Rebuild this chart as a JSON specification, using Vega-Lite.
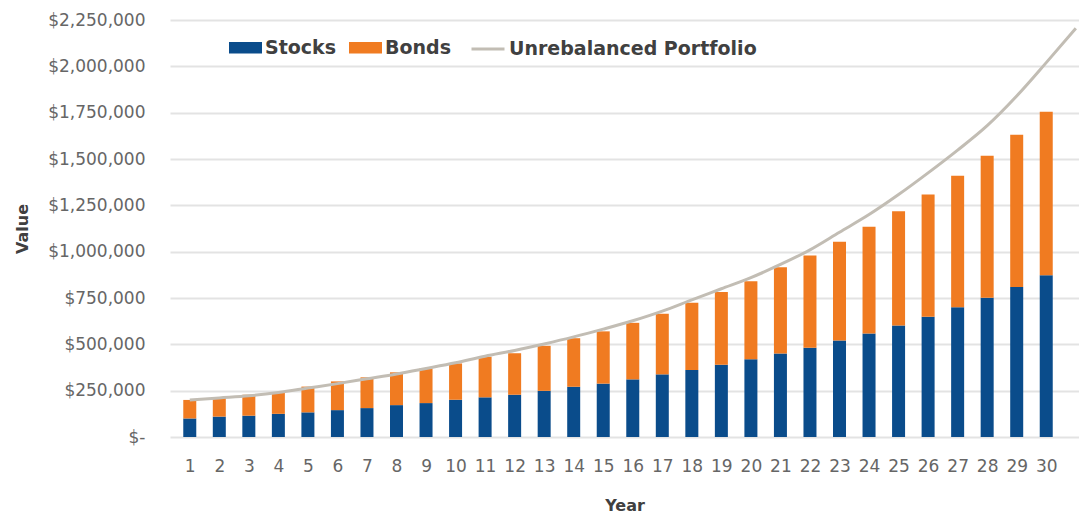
{
  "$schema": "https://vega.github.io/schema/vega-lite/v6.json",
  "width": 909,
  "height": 417,
  "autosize": {"type": "none"},
  "padding": {"left": 170, "top": 20, "right": 0, "bottom": 80},
  "background": "white",
  "config": {
    "view": {"stroke": null},
    "font": "DejaVu Sans",
    "axis": {
      "labelFont": "DejaVu Sans",
      "titleFont": "DejaVu Sans",
      "labelFontSize": 17,
      "labelColor": "#666666",
      "titleFontSize": 16,
      "titleFontWeight": "bold",
      "titleColor": "#404040",
      "ticks": false,
      "domain": false
    },
    "legend": {"labelFont": "DejaVu Sans"}
  },
  "datasets": {
    "bars": [
      {"year": 1, "series": "Stocks", "value": 100000}, {"year": 1, "series": "Bonds", "value": 100000},
      {"year": 2, "series": "Stocks", "value": 110000}, {"year": 2, "series": "Bonds", "value": 104000},
      {"year": 3, "series": "Stocks", "value": 115000}, {"year": 3, "series": "Bonds", "value": 113000},
      {"year": 4, "series": "Stocks", "value": 125000}, {"year": 4, "series": "Bonds", "value": 116000},
      {"year": 5, "series": "Stocks", "value": 133000}, {"year": 5, "series": "Bonds", "value": 139000},
      {"year": 6, "series": "Stocks", "value": 145000}, {"year": 6, "series": "Bonds", "value": 155000},
      {"year": 7, "series": "Stocks", "value": 156000}, {"year": 7, "series": "Bonds", "value": 166000},
      {"year": 8, "series": "Stocks", "value": 172000}, {"year": 8, "series": "Bonds", "value": 177000},
      {"year": 9, "series": "Stocks", "value": 183000}, {"year": 9, "series": "Bonds", "value": 187000},
      {"year": 10, "series": "Stocks", "value": 201000}, {"year": 10, "series": "Bonds", "value": 196000},
      {"year": 11, "series": "Stocks", "value": 214000}, {"year": 11, "series": "Bonds", "value": 219000},
      {"year": 12, "series": "Stocks", "value": 228000}, {"year": 12, "series": "Bonds", "value": 224000},
      {"year": 13, "series": "Stocks", "value": 249000}, {"year": 13, "series": "Bonds", "value": 243000},
      {"year": 14, "series": "Stocks", "value": 271000}, {"year": 14, "series": "Bonds", "value": 262000},
      {"year": 15, "series": "Stocks", "value": 288000}, {"year": 15, "series": "Bonds", "value": 282000},
      {"year": 16, "series": "Stocks", "value": 311000}, {"year": 16, "series": "Bonds", "value": 305000},
      {"year": 17, "series": "Stocks", "value": 338000}, {"year": 17, "series": "Bonds", "value": 327000},
      {"year": 18, "series": "Stocks", "value": 361000}, {"year": 18, "series": "Bonds", "value": 363000},
      {"year": 19, "series": "Stocks", "value": 390000}, {"year": 19, "series": "Bonds", "value": 393000},
      {"year": 20, "series": "Stocks", "value": 419000}, {"year": 20, "series": "Bonds", "value": 422000},
      {"year": 21, "series": "Stocks", "value": 451000}, {"year": 21, "series": "Bonds", "value": 465000},
      {"year": 22, "series": "Stocks", "value": 482000}, {"year": 22, "series": "Bonds", "value": 497000},
      {"year": 23, "series": "Stocks", "value": 521000}, {"year": 23, "series": "Bonds", "value": 532000},
      {"year": 24, "series": "Stocks", "value": 559000}, {"year": 24, "series": "Bonds", "value": 575000},
      {"year": 25, "series": "Stocks", "value": 602000}, {"year": 25, "series": "Bonds", "value": 616000},
      {"year": 26, "series": "Stocks", "value": 649000}, {"year": 26, "series": "Bonds", "value": 659000},
      {"year": 27, "series": "Stocks", "value": 700000}, {"year": 27, "series": "Bonds", "value": 710000},
      {"year": 28, "series": "Stocks", "value": 751000}, {"year": 28, "series": "Bonds", "value": 767000},
      {"year": 29, "series": "Stocks", "value": 810000}, {"year": 29, "series": "Bonds", "value": 821000},
      {"year": 30, "series": "Stocks", "value": 873000}, {"year": 30, "series": "Bonds", "value": 882000}
    ],
    "portfolio": [
      {"year": 1, "value": 200000}, {"year": 2, "value": 211000}, {"year": 3, "value": 222000},
      {"year": 4, "value": 240000}, {"year": 5, "value": 264000}, {"year": 6, "value": 288000},
      {"year": 7, "value": 314000}, {"year": 8, "value": 340000}, {"year": 9, "value": 370000},
      {"year": 10, "value": 401000}, {"year": 11, "value": 436000}, {"year": 12, "value": 467000},
      {"year": 13, "value": 502000}, {"year": 14, "value": 540000}, {"year": 15, "value": 582000},
      {"year": 16, "value": 627000}, {"year": 17, "value": 679000}, {"year": 18, "value": 740000},
      {"year": 19, "value": 800000}, {"year": 20, "value": 860000}, {"year": 21, "value": 931000},
      {"year": 22, "value": 1010000}, {"year": 23, "value": 1105000}, {"year": 24, "value": 1200000},
      {"year": 25, "value": 1308000}, {"year": 26, "value": 1425000}, {"year": 27, "value": 1548000},
      {"year": 28, "value": 1680000}, {"year": 29, "value": 1840000}, {"year": 30, "value": 2020000},
      {"year": 31, "value": 2205000}
    ]
  },
  "layer": [
    {
      "data": {"name": "bars"},
      "mark": {"type": "bar", "size": 13},
      "encoding": {
        "x": {
          "field": "year",
          "type": "quantitative",
          "scale": {"domain": [0.5, 30.94], "nice": false, "zero": false},
          "axis": {
            "title": "Year",
            "values": [1,2,3,4,5,6,7,8,9,10,11,12,13,14,15,16,17,18,19,20,21,22,23,24,25,26,27,28,29,30],
            "tickCount": 40,
            "format": "d",
            "grid": false,
            "labelOverlap": false,
            "labelPadding": 21,
            "titlePadding": 23
          }
        },
        "y": {
          "field": "value",
          "type": "quantitative",
          "stack": "zero",
          "scale": {"domain": [0, 2250000], "nice": false},
          "axis": {
            "title": "Value",
            "values": [0, 250000, 500000, 750000, 1000000, 1250000, 1500000, 1750000, 2000000, 2250000],
            "labelExpr": "datum.value == 0 ? '$-' : format(datum.value, '$,.0f')",
            "labelPadding": 25,
            "titlePadding": 17,
            "grid": true,
            "gridColor": "#e3e3e3",
            "gridWidth": 2
          }
        },
        "color": {
          "field": "series",
          "type": "nominal",
          "scale": {"domain": ["Stocks", "Bonds"], "range": ["#0a4c8b", "#f07b21"]},
          "legend": {
            "orient": "none",
            "direction": "horizontal",
            "legendX": 59,
            "legendY": 11,
            "title": null,
            "symbolType": "M-1,-0.35H1V0.35H-1Z",
            "symbolSize": 1089,
            "symbolStrokeWidth": 0,
            "labelFontSize": 19,
            "labelFontWeight": "bold",
            "labelColor": "#404040",
            "labelOffset": 3,
            "labelLimit": 400,
            "columnPadding": 12
          }
        },
        "order": {"field": "series", "sort": "descending"}
      }
    },
    {
      "data": {"name": "portfolio"},
      "mark": {"type": "line", "interpolate": "monotone", "strokeWidth": 3, "clip": true},
      "encoding": {
        "x": {"field": "year", "type": "quantitative"},
        "y": {"field": "value", "type": "quantitative"},
        "stroke": {
          "datum": "Unrebalanced Portfolio",
          "type": "nominal",
          "scale": {"range": ["#c2bdb4"]},
          "legend": {
            "orient": "none",
            "legendX": 300,
            "legendY": 11,
            "title": null,
            "symbolType": "stroke",
            "symbolSize": 1089,
            "symbolStrokeWidth": 3,
            "labelFontSize": 19,
            "labelFontWeight": "bold",
            "labelColor": "#404040",
            "labelOffset": 3,
            "labelLimit": 400
          }
        }
      }
    }
  ]
}
